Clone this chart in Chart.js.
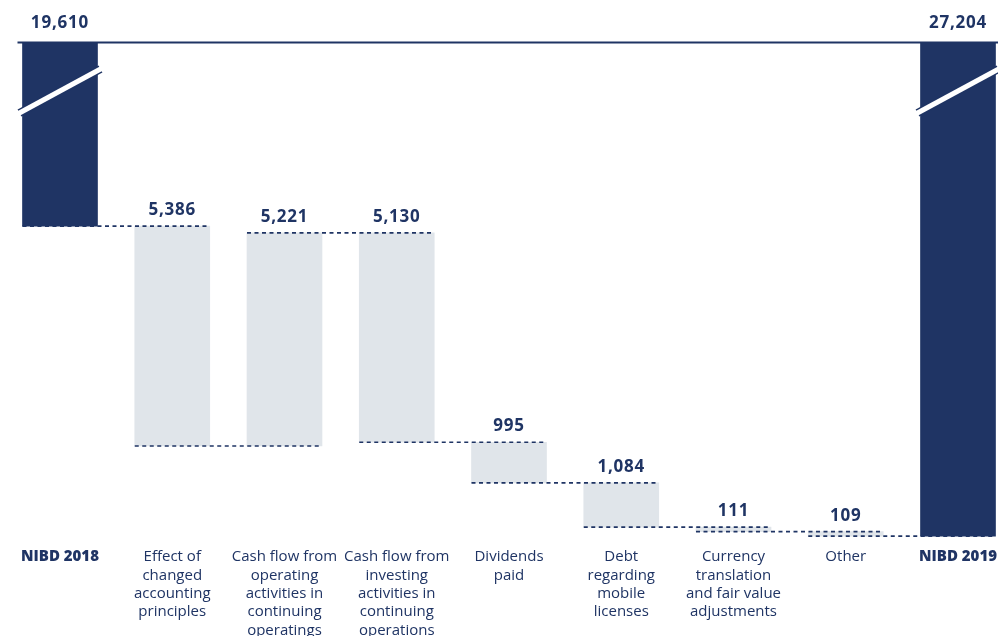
<!DOCTYPE html>
<html>
<head>
<meta charset="utf-8">
<title>NIBD 2018 - 2019</title>
<script src="https://cdn.jsdelivr.net/npm/chart.js@4.4.1/dist/chart.umd.min.js"></script>
<style>
  html, body { margin: 0; padding: 0; background: #fff; }
  #wrap { width: 998px; height: 636px; position: relative; }
</style>
</head>
<body>
<div id="wrap"><canvas id="nibdChart"></canvas></div>
<script>
// Kategori dan nilai
const categories = [
    'NIBD 2018',
    ['Effect of', 'changed', 'accounting', 'principles'],
    ['Cash flow from', 'operating', 'activities in', 'continuing', 'operatings'],
    ['Cash flow from', 'investing', 'activities in', 'continuing', 'operations'],
    ['Dividends', 'paid'],
    ['Debt', 'regarding', 'mobile', 'licenses'],
    ['Currency', 'translation', 'and fair value', 'adjustments'],
    ['Other'],
    'NIBD 2019'
];
const openingValue = 19610;
const stepValues = [5386, -5221, 5130, 995, 1084, 111, 109];
const closingValue = 27204;

// Rentang sumbu (sumbu y terbalik, terpotong di atas)
const yMin = 15100;
const yMax = 27300;
const breakAt = 16300;

const NAVY = '#1f3464';
const LIGHT = '#e0e5ea';

// Susun bar mengambang
const bars = [{ x: 0, y: [yMin, openingValue] }];
let level = openingValue;
stepValues.forEach((v, i) => {
    bars.push({ x: i + 1, y: [level, level + v] });
    level += v;
});
bars.push({ x: categories.length - 1, y: [yMin, closingValue] });
const labelValues = [openingValue, ...stepValues.map(Math.abs), closingValue];
const barColors = bars.map((b, i) => (i === 0 || i === bars.length - 1) ? NAVY : LIGHT);

const fmt = v => v.toLocaleString('en-US');

// Garis putus-putus, garis atas, tanda potong, dan label nilai
const waterfallDecor = {
    id: 'waterfallDecor',
    afterDatasetsDraw(chart) {
        const ctx = chart.ctx;
        const meta = chart.getDatasetMeta(0);
        const yScale = chart.scales.y;
        const area = chart.chartArea;
        const els = meta.data;

        ctx.save();
        // penghubung antar bar
        ctx.strokeStyle = NAVY;
        ctx.lineWidth = 1.6;
        ctx.setLineDash([4, 3.5]);
        for (let i = 0; i < els.length - 1; i++) {
            const yv = yScale.getPixelForValue(bars[i].y[1]);
            const a = els[i], b = els[i + 1];
            ctx.beginPath();
            ctx.moveTo(a.x - a.width / 2, yv);
            ctx.lineTo(b.x + b.width / 2, yv);
            ctx.stroke();
        }
        ctx.setLineDash([]);

        // garis atas
        const first = els[0];
        ctx.strokeStyle = NAVY;
        ctx.lineWidth = 2;
        ctx.beginPath();
        ctx.moveTo(first.x - first.width / 2 - 5, area.top + 0.5);
        ctx.lineTo(chart.width, area.top + 0.5);
        ctx.stroke();

        // tanda potong pada bar NIBD
        const cy = yScale.getPixelForValue(breakAt);
        [0, els.length - 1].forEach(i => {
            const e = els[i];
            const x0 = e.x - e.width / 2 - 3, x1 = e.x + e.width / 2 + 3;
            const y0 = cy + 22, y1 = cy - 22;
            ctx.lineCap = 'butt';
            ctx.strokeStyle = NAVY;
            ctx.lineWidth = 8;
            ctx.beginPath(); ctx.moveTo(x0, y0); ctx.lineTo(x1, y1); ctx.stroke();
            ctx.strokeStyle = '#ffffff';
            ctx.lineWidth = 5;
            ctx.beginPath(); ctx.moveTo(x0 - 1, y0 + 0.5); ctx.lineTo(x1 + 1, y1 - 0.5); ctx.stroke();
        });

        // label nilai
        ctx.fillStyle = NAVY;
        ctx.font = 'bold 17px "Open Sans", sans-serif';
        ctx.letterSpacing = '0.8px';
        ctx.textAlign = 'center';
        ctx.textBaseline = 'alphabetic';
        els.forEach((e, i) => {
            let y;
            if (i === 0 || i === els.length - 1) {
                y = area.top - 14;
            } else {
                y = Math.min(yScale.getPixelForValue(bars[i].y[0]), yScale.getPixelForValue(bars[i].y[1])) - 11;
            }
            ctx.fillText(fmt(labelValues[i]), e.x, y);
        });
        ctx.restore();
    }
};

const nibdChart = new Chart(document.getElementById('nibdChart').getContext('2d'), {
    type: 'bar',
    data: {
        datasets: [{
            data: bars,
            backgroundColor: barColors,
            borderWidth: 0,
            barThickness: 75
        }]
    },
    options: {
        responsive: true,
        maintainAspectRatio: false,
        animation: false,
        layout: { padding: { top: 42, left: 0, right: 0, bottom: 0 } },
        plugins: {
            legend: { display: false },
            tooltip: { enabled: false }
        },
        scales: {
            x: {
                type: 'linear',
                offset: false,
                min: -0.5345,
                max: 8.3563,
                grid: { display: false, offset: false },
                border: { display: false },
                afterBuildTicks(scale) {
                    scale.ticks = categories.map((c, i) => ({ value: i }));
                },
                afterFit(scale) {
                    scale.height = 96;
                    scale.paddingLeft = 0;
                    scale.paddingRight = 0;
                },
                ticks: {
                    autoSkip: false,
                    maxRotation: 0,
                    minRotation: 0,
                    padding: 0,
                    color: NAVY,
                    font: (c) => {
                        const edge = c.index === 0 || c.index === categories.length - 1;
                        return {
                            family: '"Open Sans", sans-serif',
                            size: 15,
                            weight: edge ? '800' : 'normal',
                            lineHeight: 1.22
                        };
                    },
                    callback: (value) => categories[value]
                }
            },
            y: {
                display: false,
                reverse: true,
                min: yMin,
                max: yMax
            }
        }
    },
    plugins: [waterfallDecor]
});
</script>
</body>
</html>
